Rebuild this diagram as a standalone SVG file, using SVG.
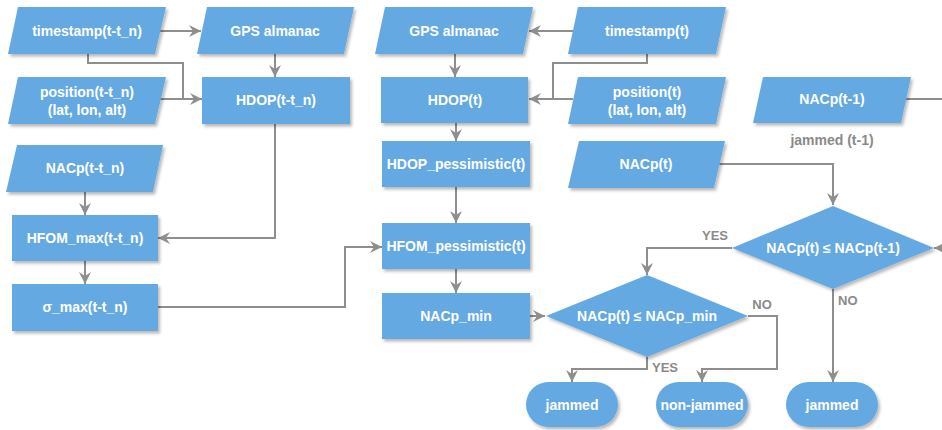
<svg xmlns="http://www.w3.org/2000/svg" width="942" height="430" viewBox="0 0 942 430">
<defs>
<filter id="sh" x="-10%" y="-10%" width="130%" height="140%">
<feDropShadow dx="2" dy="2.5" stdDeviation="1.8" flood-color="#000" flood-opacity="0.28"/>
</filter>
<marker id="ah" markerUnits="userSpaceOnUse" markerWidth="13" markerHeight="13" refX="12" refY="6" orient="auto" viewBox="0 0 13 12">
<path d="M0,0 L12,6 L0,12 L4,6 z" fill="#8e8e8e"/>
</marker>
<style>
.n{fill:#65a9e2;filter:url(#sh)}
.t{font-family:"Liberation Sans",Arial,sans-serif;font-weight:bold;font-size:14px;fill:#fff;text-anchor:middle}
.c{fill:none;stroke:#8e8e8e;stroke-width:2}
.a{marker-end:url(#ah)}
.l{font-family:"Liberation Sans",Arial,sans-serif;font-weight:bold;font-size:13px;fill:#8a8a8a}
.lj{font-family:"Liberation Sans",Arial,sans-serif;font-weight:bold;font-size:14px;fill:#8a8a8a;text-anchor:middle}
</style>
</defs>
<rect width="942" height="430" fill="#fff"/>
<g id="connectors">
<path class="c a" d="M160,31 H201"/>
<path class="c" d="M88,54 V63 H183 V99"/>
<path class="c a" d="M160,99 H202"/>
<path class="c a" d="M275,54 V77"/>
<path class="c a" d="M275,124 V238 H158"/>
<path class="c a" d="M85,192 V215"/>
<path class="c a" d="M85,261 V284"/>
<path class="c a" d="M158,307 H345 V247 H382"/>
<path class="c a" d="M573,31 H529"/>
<path class="c" d="M647,54 V63 H553 V99"/>
<path class="c a" d="M573,99 H529"/>
<path class="c a" d="M455,54 V77"/>
<path class="c a" d="M456,123 V141"/>
<path class="c a" d="M456,187 V223"/>
<path class="c a" d="M456,269 V293"/>
<path class="c a" d="M530,316 H545"/>
<path class="c a" d="M714,164 H833 V205"/>
<path class="c" d="M906,99 H942"/>
<path class="c a" d="M942,248 H934"/>
<path class="c a" d="M732,248 H647 V275"/>
<path class="c a" d="M833,289 V382"/>
<path class="c a" d="M647,357 V369 H572 V382"/>
<path class="c a" d="M748,316 H777 V369 H702 V382"/>
<text class="l" x="715" y="240" text-anchor="middle">YES</text>
<text class="l" x="652" y="372">YES</text>
<text class="l" x="762" y="309" text-anchor="middle">NO</text>
<text class="l" x="838" y="305">NO</text>
</g>
<g id="timestamp_tn"><polygon class="n" points="18,7 166,7 155,54 8,54"/><text class="t" x="87" y="36">timestamp(t-t_n)</text></g>
<g id="position_tn"><polygon class="n" points="18,77 166,77 155,124 8,124"/><text class="t" x="87" y="97">position(t-t_n)</text><text class="t" x="87" y="115">(lat, lon, alt)</text></g>
<g id="gps_tn"><polygon class="n" points="207,7 354,7 344,54 197,54"/><text class="t" x="275" y="36">GPS almanac</text></g>
<g id="hdop_tn"><rect class="n" x="202" y="77" width="148" height="47"/><text class="t" x="276" y="105">HDOP(t-t_n)</text></g>
<g id="nacp_tn"><polygon class="n" points="17,145 163,145 153,192 6,192"/><text class="t" x="85" y="173">NACp(t-t_n)</text></g>
<g id="hfom_max"><rect class="n" x="12" y="215" width="146" height="46"/><text class="t" x="85" y="243">HFOM_max(t-t_n)</text></g>
<g id="sigma_max"><rect class="n" x="12" y="284" width="146" height="47"/><text class="t" x="85" y="312">σ_max(t-t_n)</text></g>
<g id="gps_t"><polygon class="n" points="385,7 533,7 523,54 375,54"/><text class="t" x="454" y="36">GPS almanac</text></g>
<g id="timestamp_t"><polygon class="n" points="578,7 726,7 716,54 568,54"/><text class="t" x="647" y="36">timestamp(t)</text></g>
<g id="hdop_t"><rect class="n" x="381" y="77" width="147" height="46"/><text class="t" x="455" y="105">HDOP(t)</text></g>
<g id="position_t"><polygon class="n" points="578,77 726,77 716,124 568,124"/><text class="t" x="647" y="97">position(t)</text><text class="t" x="647" y="115">(lat, lon, alt)</text></g>
<g id="hdop_pess"><rect class="n" x="382" y="141" width="148" height="46"/><text class="t" x="456" y="169">HDOP_pessimistic(t)</text></g>
<g id="hfom_pess"><rect class="n" x="382" y="223" width="148" height="46"/><text class="t" x="456" y="251">HFOM_pessimistic(t)</text></g>
<g id="nacp_min"><rect class="n" x="382" y="293" width="148" height="46"/><text class="t" x="456" y="321">NACp_min</text></g>
<g id="nacp_t1"><polygon class="n" points="763,77 911,77 901,123 753,123"/><text class="t" x="832" y="104">NACp(t-1)</text><text class="lj" x="832" y="145">jammed (t-1)</text></g>
<g id="nacp_t"><polygon class="n" points="579,141 725,141 714,188 568,188"/><text class="t" x="646" y="169">NACp(t)</text></g>
<g id="dec1"><polygon class="n" points="833,206 934,248 833,289 732,248"/><text class="t" x="833" y="253">NACp(t) ≤ NACp(t-1)</text></g>
<g id="dec2"><polygon class="n" points="647,275 748,316 647,357 546,316"/><text class="t" x="647" y="321">NACp(t) ≤ NACp_min</text></g>
<g id="jammed1"><rect class="n" x="526" y="382" width="92" height="45" rx="22.5"/><text class="t" x="572" y="410">jammed</text></g>
<g id="nonjammed"><rect class="n" x="656" y="382" width="92" height="45" rx="22.5"/><text class="t" x="702" y="410">non-jammed</text></g>
<g id="jammed2"><rect class="n" x="786" y="382" width="92" height="45" rx="22.5"/><text class="t" x="832" y="410">jammed</text></g>
</svg>
